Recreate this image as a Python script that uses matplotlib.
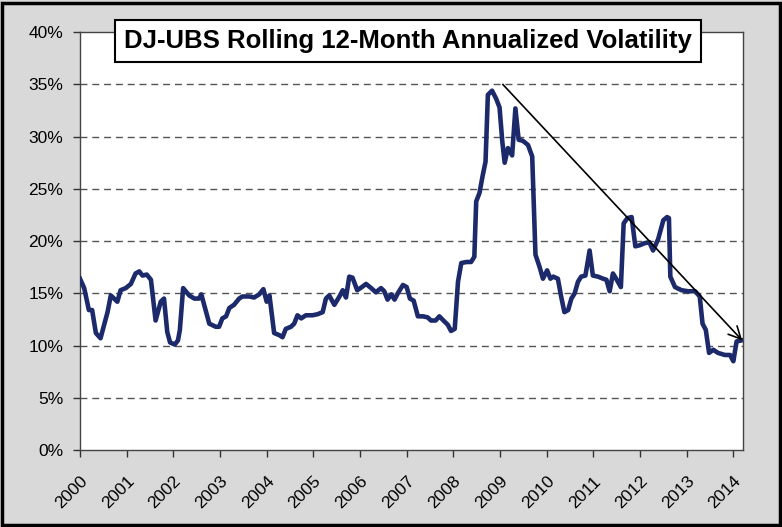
import matplotlib
matplotlib.use('Agg')
import matplotlib.pyplot as plt
from matplotlib.patches import Rectangle
from matplotlib.ticker import FuncFormatter, MultipleLocator
import numpy as np

# decimal-year dates and rolling 12m volatility (%)
dates = [
    2000.00, 2000.09, 2000.19, 2000.26, 2000.34, 2000.44, 2000.59, 2000.66, 2000.80, 2000.87,
    2000.98, 2001.09, 2001.19, 2001.27, 2001.34, 2001.43, 2001.52, 2001.62, 2001.73, 2001.80,
    2001.87, 2001.93, 2002.03, 2002.10, 2002.14, 2002.21, 2002.34, 2002.45, 2002.55, 2002.60,
    2002.66, 2002.77, 2002.91, 2002.98, 2003.05, 2003.13, 2003.20, 2003.30, 2003.41, 2003.48,
    2003.63, 2003.73, 2003.84, 2003.93, 2004.00, 2004.06, 2004.16, 2004.27, 2004.34, 2004.41,
    2004.52, 2004.59, 2004.66, 2004.74, 2004.84, 2004.98, 2005.09, 2005.20, 2005.27, 2005.34,
    2005.45, 2005.56, 2005.63, 2005.70, 2005.77, 2005.84, 2005.94, 2006.04, 2006.13, 2006.24,
    2006.34, 2006.45, 2006.52, 2006.59, 2006.67, 2006.74, 2006.81, 2006.92, 2007.00, 2007.07,
    2007.15, 2007.24, 2007.35, 2007.45, 2007.52, 2007.62, 2007.70, 2007.81, 2007.88, 2007.95,
    2008.03, 2008.10, 2008.17, 2008.28, 2008.38, 2008.45, 2008.49, 2008.56, 2008.63, 2008.69,
    2008.74, 2008.83, 2008.92, 2008.99, 2009.05, 2009.10, 2009.17, 2009.26, 2009.33, 2009.40,
    2009.49, 2009.60, 2009.69, 2009.76, 2009.85, 2009.92, 2010.01, 2010.08, 2010.14, 2010.24,
    2010.31, 2010.38, 2010.46, 2010.53, 2010.60, 2010.67, 2010.74, 2010.83, 2010.92, 2010.99,
    2011.10, 2011.21, 2011.28, 2011.35, 2011.42, 2011.49, 2011.59, 2011.65, 2011.73, 2011.82,
    2011.90, 2011.99, 2012.10, 2012.20, 2012.28, 2012.39, 2012.50, 2012.58, 2012.62, 2012.65,
    2012.75, 2012.89, 2013.03, 2013.18, 2013.28, 2013.34, 2013.41, 2013.48, 2013.57, 2013.67,
    2013.82, 2013.93, 2014.00, 2014.07, 2014.18,
]
vol = [
    16.4, 15.5, 13.4, 13.4, 11.2, 10.7, 13.2, 14.8, 14.2, 15.3,
    15.5, 15.9, 16.9, 17.1, 16.7, 16.8, 16.3, 12.4, 14.2, 14.5,
    11.3, 10.3, 10.1, 10.5, 11.5, 15.5, 14.8, 14.5, 14.5, 14.9,
    13.9, 12.1, 11.8, 11.8, 12.6, 12.8, 13.6, 13.9, 14.5, 14.7,
    14.7, 14.6, 14.9, 15.4, 14.2, 14.8, 11.2, 11.0, 10.8, 11.6,
    11.8, 12.1, 12.9, 12.6, 12.9, 12.9, 13.0, 13.2, 14.5, 14.8,
    13.9, 14.7, 15.3, 14.6, 16.6, 16.5, 15.3, 15.6, 15.9, 15.5,
    15.1, 15.5, 15.2, 14.4, 14.9, 14.4, 15.0, 15.8, 15.6, 14.5,
    14.3, 12.8, 12.8, 12.7, 12.4, 12.4, 12.8, 12.3, 12.0, 11.4,
    11.6, 16.1, 17.9, 18.0, 18.0, 18.5, 23.8, 24.6, 26.3, 27.6,
    34.0, 34.4, 33.6, 32.8, 29.5, 27.5, 28.9, 28.2, 32.7, 29.7,
    29.6, 29.2, 28.1, 18.7, 17.5, 16.4, 17.2, 16.4, 16.6, 16.4,
    14.7, 13.2, 13.4, 14.5, 15.0, 16.1, 16.6, 16.7, 19.1, 16.7,
    16.6, 16.4, 16.3, 15.2, 16.9, 16.4, 15.6, 21.7, 22.2, 22.3,
    19.5, 19.6, 19.8, 19.9, 19.1, 20.2, 22.0, 22.3, 22.2, 16.6,
    15.6, 15.3, 15.2, 15.2, 14.7, 12.1, 11.5, 9.3, 9.6, 9.3,
    9.1, 9.1, 8.5, 10.4, 10.5,
]
years = list(range(2000, 2015))
trend_start = (2009.06, 35.0)
trend_end = (2014.19, 10.5)
title = 'DJ-UBS Rolling 12-Month Annualized Volatility'

plt.rcParams['font.family'] = ['Liberation Sans Narrow', 'Liberation Sans', 'DejaVu Sans']

fig = plt.figure(figsize=(7.82, 5.27), dpi=100)
fig.patch.set_facecolor('#d9d9d9')
# black frame round the whole picture
fig.patches.append(Rectangle((0.003, 0.004), 0.994, 0.991, transform=fig.transFigure,
                             fill=False, edgecolor='black', linewidth=2.5))

ax = fig.add_axes([0.1023, 0.146, 0.848, 0.793])
ax.set_facecolor('white')
ax.plot(dates, np.array(vol) / 100, color='#1c2a6b', linewidth=3.3, solid_joinstyle='round', zorder=3)

ax.set_xlim(2000, 2014.21)
ax.set_ylim(0, 0.40)
ax.yaxis.set_major_locator(MultipleLocator(0.05))
ax.yaxis.set_major_formatter(FuncFormatter(lambda v, p: f'{v*100:.0f}%'))
ax.set_xticks(years)
ax.set_xticklabels([str(y) for y in years], rotation=45, ha='right', va='top',
                   rotation_mode='anchor')
ax.tick_params(axis='both', length=5, width=1, color='#333333', direction='out')
ax.tick_params(axis='y', labelsize=12.5, pad=7)
ax.tick_params(axis='x', labelsize=12.5, pad=12)

for v in np.arange(0.05, 0.40, 0.05):
    ax.axhline(v, color='#555555', linewidth=1, linestyle=(0, (5, 3.5)), zorder=1)

for s in ax.spines.values():
    s.set_color('#444444')
    s.set_linewidth(1)

# trend arrow from the 2009 peak down to the latest value
ax.annotate('', xy=(trend_end[0], trend_end[1] / 100),
            xytext=(trend_start[0], trend_start[1] / 100),
            arrowprops=dict(arrowstyle='->', color='black', lw=1.2, mutation_scale=22,
                            shrinkA=0, shrinkB=0))

fig.text(0.522, 0.922, title, fontsize=18.5, fontweight='bold', ha='center', va='center',
         bbox=dict(boxstyle='square,pad=0.36', facecolor='white', edgecolor='black', linewidth=1.5),
         zorder=5)

fig.savefig('out.png', dpi=100, facecolor=fig.get_facecolor())
